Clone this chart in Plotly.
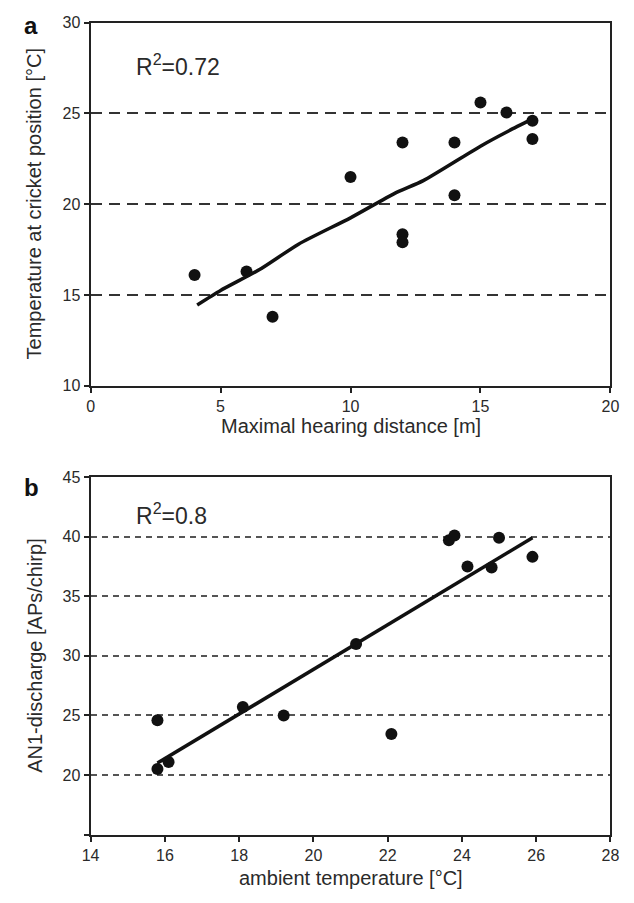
import plotly.graph_objects as go

# Panel a: hearing distance vs. temperature at the cricket's position
dist_m = [4, 6, 7, 10, 12, 12, 12, 14, 14, 15, 16, 17, 17]
temp_c = [16.1, 16.3, 13.8, 21.5, 23.4, 18.35, 17.9, 23.4, 20.5, 25.6, 25.05, 24.6, 23.6]
trend_a_x = [4.1, 5.0, 6.5, 8.0, 10.0, 11.7, 12.8, 15.0, 16.1, 17.0]
trend_a_y = [14.45, 15.25, 16.4, 17.8, 19.25, 20.6, 21.3, 23.2, 24.05, 24.7]
r2_a = "0.72"

# Panel b: ambient temperature vs. AN1 discharge
amb_t = [15.8, 15.8, 16.1, 18.1, 19.2, 21.15, 22.1, 23.65, 23.8, 24.15, 24.8, 25.0, 25.9]
an1 = [24.6, 20.5, 21.1, 25.7, 25.0, 31.0, 23.45, 39.7, 40.1, 37.5, 37.4, 39.9, 38.3]
trend_b_x = [15.8, 25.9]
trend_b_y = [21.0, 39.9]
r2_b = "0.8"

xticks_a = [0, 5, 10, 15, 20]
yticks_a = [10, 15, 20, 25, 30]
xticks_b = [14, 16, 18, 20, 22, 24, 26, 28]
yticks_b = [20, 25, 30, 35, 40, 45]
yticks_b_unlabelled = [15]

W, H = 634, 903
FONT = "Liberation Sans, Arial, Helvetica, sans-serif"
INK = "#222222"

def px_x(p):
    return p / W

def px_y(p):
    return 1 - p / H

xdom = [px_x(84), px_x(619)]
ydom_a = [px_y(385), px_y(15)]
ydom_b = [px_y(842.5), px_y(478)]

fig = go.Figure()

marker = dict(color="#111111", size=12, line=dict(width=0))
fig.add_trace(go.Scatter(x=dist_m, y=temp_c, mode="markers", marker=marker,
                         xaxis="x", yaxis="y"))
fig.add_trace(go.Scatter(x=trend_a_x, y=trend_a_y, mode="lines",
                         line=dict(color="#111111", width=3.5, shape="spline", smoothing=0.6),
                         xaxis="x", yaxis="y"))
fig.add_trace(go.Scatter(x=amb_t, y=an1, mode="markers", marker=marker,
                         xaxis="x2", yaxis="y2"))
fig.add_trace(go.Scatter(x=trend_b_x, y=trend_b_y, mode="lines",
                         line=dict(color="#111111", width=3.5),
                         xaxis="x2", yaxis="y2"))

common_axis = dict(
    showline=True, linewidth=2, linecolor=INK, mirror=True,
    ticks="outside", ticklen=5, tickwidth=1.5, tickcolor=INK,
    tickfont=dict(family=FONT, size=16, color="#2a2a2a"),
    zeroline=False, fixedrange=True,
)

fig.update_layout(
    width=W, height=H,
    margin=dict(l=0, r=0, t=0, b=0),
    paper_bgcolor="white", plot_bgcolor="white",
    showlegend=False,
    font=dict(family=FONT, color="#2a2a2a"),
    xaxis=dict(domain=xdom, range=[0, 20], tickvals=xticks_a, anchor="y",
               showgrid=False, **common_axis),
    yaxis=dict(domain=ydom_a, range=[10, 30], tickvals=yticks_a, anchor="x",
               showgrid=True, gridcolor="#333333", gridwidth=2, griddash="11px,7px",
               **common_axis),
    xaxis2=dict(domain=xdom, range=[14, 28], tickvals=xticks_b, anchor="y2",
                showgrid=False, **common_axis),
    yaxis2=dict(domain=ydom_b, range=[15, 45], tickvals=yticks_b,
                anchor="x2", showgrid=True, gridcolor="#555555", gridwidth=1.5,
                griddash="6px,5px",
                minor=dict(tickvals=yticks_b_unlabelled, ticks="outside", ticklen=5,
                           tickwidth=1.5, tickcolor=INK, showgrid=False),
                **common_axis),
)

def label(text, x, y, size, bold=False, angle=0, xanchor="center", color="#2a2a2a"):
    fig.add_annotation(
        text=f"<b>{text}</b>" if bold else text,
        x=px_x(x), y=px_y(y), xref="paper", yref="paper",
        showarrow=False, xanchor=xanchor, yanchor="middle", textangle=angle,
        font=dict(family=FONT, size=size, color=color),
    )

# panel letters
label("a", 23, 18, 24, bold=True, color="#111111")
label("b", 23, 489, 24, bold=True, color="#111111")

# axis titles
label("Temperature at cricket position [°C]", 26, 200, 20, angle=-90)
label("Maximal hearing distance [m]", 351.5, 426, 20)
label("AN1-discharge [APs/chirp]", 26, 660, 20, angle=-90)
label("ambient temperature [°C]", 351.5, 887, 20)

# goodness-of-fit labels
label(f"R<sup>2</sup>={r2_a}", 129, 58, 23, xanchor="left")
label(f"R<sup>2</sup>={r2_b}", 129, 516, 23, xanchor="left")

fig.write_html("out.html")
